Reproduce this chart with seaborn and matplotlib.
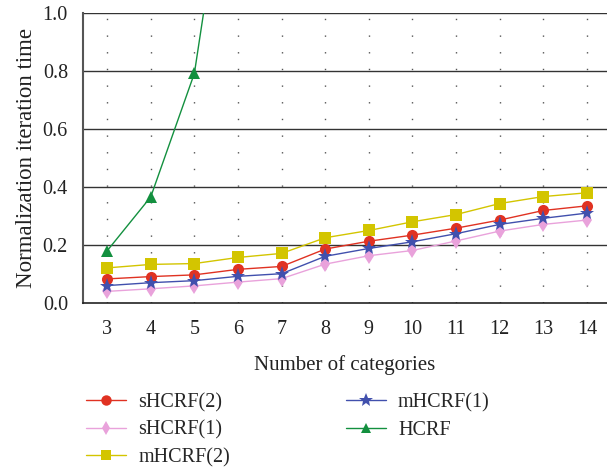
import numpy as np
import pandas as pd
import matplotlib
matplotlib.use("Agg")
import matplotlib.pyplot as plt
import seaborn as sns

# ------------------------------------------------------------
# Data
# ------------------------------------------------------------
categories = [3, 4, 5, 6, 7, 8, 9, 10, 11, 12, 13, 14]

shcrf2 = [0.083, 0.091, 0.097, 0.116, 0.126, 0.186, 0.213, 0.234, 0.258, 0.286, 0.319, 0.335]
shcrf1 = [0.040, 0.049, 0.059, 0.072, 0.084, 0.134, 0.163, 0.181, 0.214, 0.248, 0.271, 0.286]
mhcrf2 = [0.121, 0.133, 0.136, 0.157, 0.171, 0.225, 0.250, 0.280, 0.305, 0.343, 0.367, 0.380]
mhcrf1 = [0.060, 0.070, 0.077, 0.092, 0.101, 0.161, 0.188, 0.211, 0.239, 0.271, 0.292, 0.310]
hcrf_x = [3, 4, 5, 6]
hcrf = [0.180, 0.366, 0.792, 1.78]

series_names = ["sHCRF(2)", "sHCRF(1)", "mHCRF(2)", "mHCRF(1)", "HCRF"]
y_ticks = [0.0, 0.2, 0.4, 0.6, 0.8, 1.0]

frames = []
for name, vals in zip(series_names[:4], [shcrf2, shcrf1, mhcrf2, mhcrf1]):
    frames.append(pd.DataFrame({"x": categories, "y": vals, "method": name}))
frames.append(pd.DataFrame({"x": hcrf_x, "y": hcrf, "method": "HCRF"}))
df = pd.concat(frames, ignore_index=True)

palette = {
    "sHCRF(2)": "#e03222",
    "sHCRF(1)": "#e9a2db",
    "mHCRF(2)": "#d3c500",
    "mHCRF(1)": "#4150ad",
    "HCRF": "#13903f",
}
markers = {
    "sHCRF(2)": "o",
    "sHCRF(1)": "d",
    "mHCRF(2)": "s",
    "mHCRF(1)": "*",
    "HCRF": "^",
}

# ------------------------------------------------------------
# Plot
# ------------------------------------------------------------
sns.set_style("white")
plt.rcParams["font.family"] = ["Liberation Serif", "DejaVu Serif"]

fig = plt.figure(figsize=(6.07, 4.68), dpi=100)
ax = fig.add_axes([0.137, 0.3526, 0.863, 0.6196])

sns.lineplot(
    data=df, x="x", y="y", hue="method", style="method",
    hue_order=series_names, style_order=series_names,
    palette=palette, markers=markers, dashes=False,
    linewidth=1.0, markersize=8, markeredgewidth=0,
    ax=ax,
)

# star marker renders small, bump it up
for ln in ax.lines:
    if ln.get_marker() == "*":
        ln.set_markersize(11)

ax.set_xlim(2.45, 14.46)
ax.set_ylim(0, 1.0)
ax.set_xticks(categories)
ax.set_yticks(y_ticks)
ax.set_yticklabels([f"{v:.1f}" for v in y_ticks])

# grid: solid horizontal, dotted vertical
for v in y_ticks[1:]:
    ax.axhline(v, color="#333333", lw=1.0, zorder=0)
for c in categories:
    ax.axvline(c, color="#555555", lw=1.0, ls=(0, (1, 11)), zorder=0)

for side in ["top", "right"]:
    ax.spines[side].set_visible(False)
ax.spines["left"].set_color("#555555")
ax.spines["left"].set_linewidth(1.5)
ax.spines["bottom"].set_color("#222222")
ax.spines["bottom"].set_linewidth(1.2)

ax.tick_params(axis="both", direction="out", labelsize=14.5, colors="#222222")
ax.tick_params(axis="x", length=6, width=1.0, pad=6)
ax.tick_params(axis="y", length=8, width=1.0, pad=3)

ax.set_xlabel("Number of categories", fontsize=15, labelpad=12, color="#222222")
ax.set_ylabel("Normalization iteration time", fontsize=16.5, labelpad=4, color="#222222")

handles, labels = ax.get_legend_handles_labels()
ax.get_legend().remove()
for h in handles:
    if h.get_marker() == "*":
        h.set_markersize(10)
    else:
        h.set_markersize(7.5)
fig.legend(
    handles, labels, ncol=2, loc="upper left",
    bbox_to_anchor=(0.128, 0.178), frameon=False,
    fontsize=14.5, handlelength=2.0, handletextpad=0.6,
    columnspacing=5.75, labelspacing=0.42, borderaxespad=0,
)

fig.savefig("out.png", dpi=100)
